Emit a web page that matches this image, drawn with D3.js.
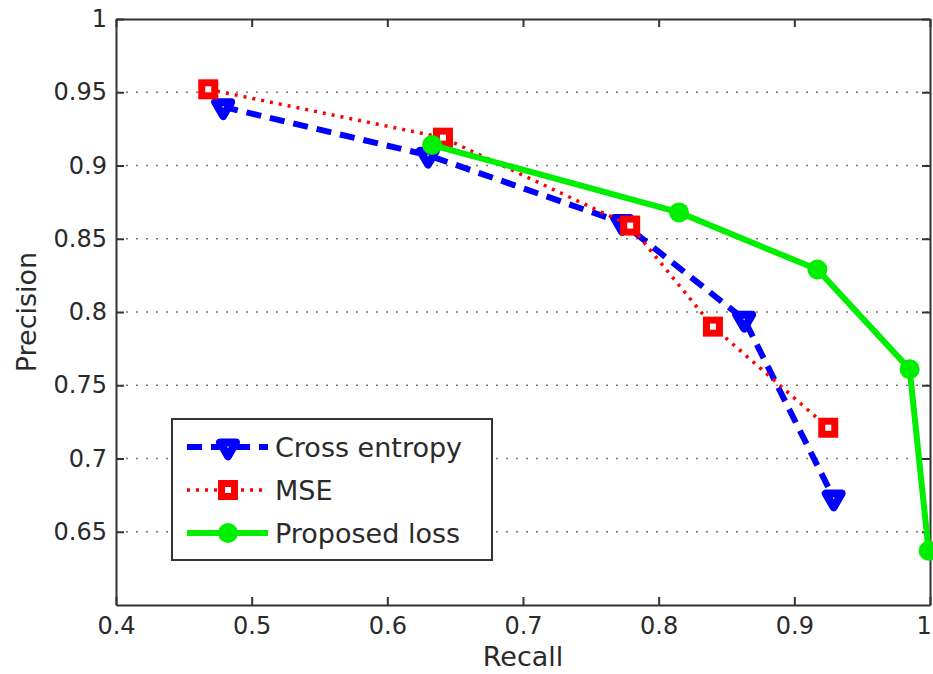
<!DOCTYPE html>
<html>
<head>
<meta charset="utf-8">
<script src="https://cdn.jsdelivr.net/npm/d3@7"></script>
<style>
  body { margin: 0; background: #fff; overflow: hidden; }
  text { font-family: "DejaVu Sans", sans-serif; fill: #2a2a2a; }
</style>
</head>
<body>
<div id="chart"></div>
<script>
// values
var seriesNames = ["Cross entropy", "MSE", "Proposed loss"];
var crossRecall = [0.479, 0.630, 0.773, 0.863, 0.929];
var crossPrecision = [0.940, 0.907, 0.861, 0.795, 0.673];
var mseRecall = [0.468, 0.641, 0.779, 0.840, 0.925];
var msePrecision = [0.952, 0.919, 0.859, 0.790, 0.721];
var propRecall = [0.633, 0.815, 0.917, 0.985, 0.999];
var propPrecision = [0.914, 0.868, 0.829, 0.761, 0.637];
var xTicks = [0.4, 0.5, 0.6, 0.7, 0.8, 0.9, 1];
var yTicks = [0.65, 0.7, 0.75, 0.8, 0.85, 0.9, 0.95, 1];

var svgWidth = 933;
var svgHeight = 674;
var margin = {top: 19, right: 3, bottom: 69, left: 116};
var width = svgWidth - margin.left - margin.right;
var height = svgHeight - margin.top - margin.bottom;

var svg = d3.select("#chart")
  .append("svg")
  .attr("width", svgWidth)
  .attr("height", svgHeight)
  .style("display", "block");

var chartGroup = svg.append("g")
  .attr("transform", `translate(${margin.left}, ${margin.top})`);

var xScale = d3.scaleLinear().domain([0.4, 1]).range([0, width]);
var yScale = d3.scaleLinear().domain([0.6, 1]).range([height, 0]);

// dotted horizontal grid
chartGroup.selectAll(".grid")
  .data(yTicks.filter(d => d < 1))
  .enter()
  .append("line")
  .attr("x1", 0)
  .attr("x2", width)
  .attr("y1", d => yScale(d))
  .attr("y2", d => yScale(d))
  .attr("stroke", "#777")
  .attr("stroke-width", 1.5)
  .attr("stroke-dasharray", "2,8");

// axes, ticks pointing inwards like matlab
var fmt = d => String(+d.toFixed(2));
var bottomAxis = d3.axisBottom(xScale).tickValues(xTicks).tickFormat(fmt)
  .tickSizeInner(-8).tickSizeOuter(0).tickPadding(12);
var topAxis = d3.axisTop(xScale).tickValues(xTicks).tickFormat("")
  .tickSizeInner(-8).tickSizeOuter(0);
var leftAxis = d3.axisLeft(yScale).tickValues(yTicks).tickFormat(fmt)
  .tickSizeInner(-8).tickSizeOuter(0).tickPadding(9);
var rightAxis = d3.axisRight(yScale).tickValues(yTicks).tickFormat("")
  .tickSizeInner(-8).tickSizeOuter(0);

var axes = [
  chartGroup.append("g").attr("transform", `translate(0, ${height})`).call(bottomAxis),
  chartGroup.append("g").call(topAxis),
  chartGroup.append("g").call(leftAxis),
  chartGroup.append("g").attr("transform", `translate(${width}, 0)`).call(rightAxis)
];
axes.forEach(function(a) {
  a.select(".domain").attr("stroke", "#333").attr("stroke-width", 2);
  a.selectAll(".tick line").attr("stroke", "#333").attr("stroke-width", 2);
  a.selectAll(".tick text").attr("font-size", "24px").attr("fill", "#2a2a2a");
});
// last x label sits on the right edge, keep it inside the page
axes[0].selectAll(".tick text").filter(d => d === 1).attr("text-anchor", "end").attr("dx", "0.05em");

// axis titles
svg.append("text")
  .attr("x", margin.left + xScale(0.7))
  .attr("y", 666)
  .attr("text-anchor", "middle")
  .attr("font-size", "27px")
  .text("Recall");

svg.append("text")
  .attr("transform", `translate(36, ${margin.top + yScale(0.8)}) rotate(-90)`)
  .attr("text-anchor", "middle")
  .attr("font-size", "27px")
  .text("Precision");

var lineGen = d3.line().x(d => xScale(d[0])).y(d => yScale(d[1]));

var triangle = d3.symbol().type(d3.symbolTriangle).size(110);

var styles = [
  {color: "#0000ff", width: 6, dash: "15,9", marker: "tri"},
  {color: "#ff0000", width: 3.5, dash: "3,6", marker: "sq"},
  {color: "#00ee00", width: 6, dash: null, marker: "circ"}
];
var seriesData = [
  d3.zip(crossRecall, crossPrecision),
  d3.zip(mseRecall, msePrecision),
  d3.zip(propRecall, propPrecision)
];

function drawMarker(g, x, y, s) {
  if (s.marker === "tri") {
    g.append("path")
      .attr("d", triangle())
      .attr("transform", `translate(${x}, ${y}) rotate(180)`)
      .attr("fill", "#fff")
      .attr("stroke", s.color)
      .attr("stroke-width", 8)
      .attr("stroke-linejoin", "round");
  } else if (s.marker === "sq") {
    g.append("rect")
      .attr("x", x - 6.5)
      .attr("y", y - 6.5)
      .attr("width", 13)
      .attr("height", 13)
      .attr("fill", "#fff")
      .attr("stroke", s.color)
      .attr("stroke-width", 7);
  } else {
    g.append("circle")
      .attr("cx", x)
      .attr("cy", y)
      .attr("r", 10)
      .attr("fill", s.color);
  }
}

seriesData.forEach(function(data, i) {
  var s = styles[i];
  var g = chartGroup.append("g");
  g.append("path")
    .datum(data)
    .attr("d", lineGen)
    .attr("fill", "none")
    .attr("stroke", s.color)
    .attr("stroke-width", s.width)
    .attr("stroke-dasharray", s.dash);
  data.forEach(d => drawMarker(g, xScale(d[0]), yScale(d[1]), s));
});

// legend
var legend = svg.append("g").attr("transform", "translate(172, 419)");
legend.append("rect")
  .attr("width", 320)
  .attr("height", 141)
  .attr("fill", "#fff")
  .attr("stroke", "#333")
  .attr("stroke-width", 2);

seriesNames.forEach(function(name, i) {
  var s = styles[i];
  var y = 28 + i * 43;
  legend.append("line")
    .attr("x1", 15)
    .attr("x2", 96)
    .attr("y1", y)
    .attr("y2", y)
    .attr("stroke", s.color)
    .attr("stroke-width", s.width)
    .attr("stroke-dasharray", s.dash);
  drawMarker(legend, 56, y, s);
  legend.append("text")
    .attr("x", 103)
    .attr("y", y)
    .attr("dy", "0.36em")
    .attr("font-size", "27px")
    .text(name);
});
</script>
</body>
</html>
